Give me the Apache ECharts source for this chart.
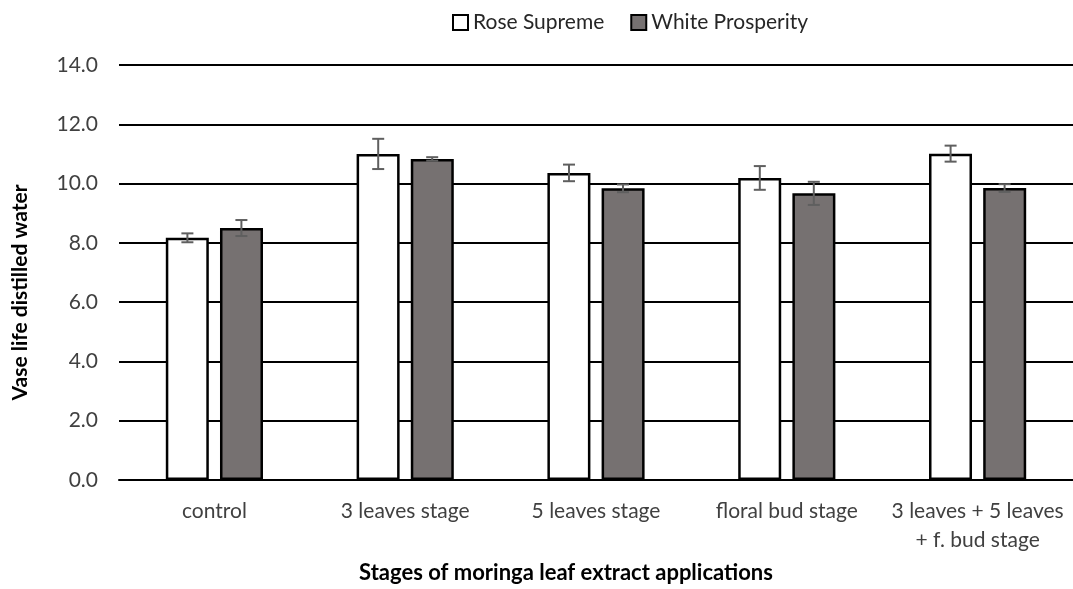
<!DOCTYPE html>
<html>
<head>
<meta charset="utf-8">
<script src="https://cdn.jsdelivr.net/npm/echarts@6/dist/echarts.min.js"></script>
<style>
  html, body { margin: 0; padding: 0; background: #fff; }
  #chart { width: 1073px; height: 589px; }
</style>
</head>
<body>
<div id="chart"></div>
<script>
// data
const categories = ['control', '3 leaves stage', '5 leaves stage', 'floral bud stage', '3 leaves + 5 leaves\n+ f. bud stage'];
const roseSupreme = [8.17, 11.0, 10.36, 10.19, 11.01];
const roseErr = [0.15, 0.51, 0.28, 0.40, 0.27];
const whiteProsperity = [8.5, 10.83, 9.84, 9.67, 9.85];
const whiteErr = [0.27, 0.06, 0.13, 0.39, 0.13];
const yTicks = [0, 2, 4, 6, 8, 10, 12, 14];

const font = 'Lato, "Open Sans", sans-serif';
const BAR_W = 43;
const OFFSET = 27; // half of bar centre-to-centre distance

function errData(vals, errs) {
  return vals.map((v, i) => [i, v - errs[i], v + errs[i]]);
}

function errSeries(name, vals, errs, shift) {
  return {
    type: 'custom',
    name: name + ' err',
    z: 10,
    renderItem: (params, api) => {
      const lo = api.coord([api.value(0), api.value(1)]);
      const hi = api.coord([api.value(0), api.value(2)]);
      const x = lo[0] + shift;
      const cap = 6;
      const style = { stroke: '#5f5f5f', lineWidth: 2 };
      return {
        type: 'group',
        children: [
          { type: 'line', shape: { x1: x, y1: hi[1], x2: x, y2: lo[1] }, style },
          { type: 'line', shape: { x1: x - cap, y1: hi[1], x2: x + cap, y2: hi[1] }, style },
          { type: 'line', shape: { x1: x - cap, y1: lo[1], x2: x + cap, y2: lo[1] }, style }
        ]
      };
    },
    encode: { x: 0, y: [1, 2] },
    data: errData(vals, errs),
    silent: true
  };
}

const chart = echarts.init(document.getElementById('chart'));
chart.setOption({
  animation: false,
  textStyle: { fontFamily: font },
  legend: {
    top: 7,
    left: 447,
    data: ['Rose Supreme', 'White Prosperity'],
    icon: 'rect',
    itemWidth: 15,
    itemHeight: 15,
    itemGap: 26,
    textStyle: { fontSize: 21, color: '#262626', fontFamily: font }
  },
  grid: { left: 119, right: 0, top: 65, bottom: 105 },
  xAxis: {
    type: 'category',
    data: categories,
    axisLine: { lineStyle: { color: '#000', width: 2 } },
    axisTick: { show: false },
    axisLabel: { fontSize: 21, color: '#404040', margin: 17, lineHeight: 29, interval: 0 },
    name: 'Stages of moringa leaf extract applications',
    nameLocation: 'middle',
    nameGap: 82,
    nameTextStyle: { fontSize: 22, fontWeight: 'bold', color: '#000', padding: [0, 60, 0, 0] }
  },
  yAxis: {
    type: 'value',
    min: yTicks[0],
    max: yTicks[yTicks.length - 1],
    interval: 2,
    axisLine: { show: false },
    axisTick: { show: false },
    splitLine: { lineStyle: { color: '#000', width: 2 } },
    axisLabel: { fontSize: 21, color: '#404040', margin: 21, formatter: v => v.toFixed(1) },
    name: 'Vase life distilled water',
    nameLocation: 'middle',
    nameGap: 88,
    nameTextStyle: { fontSize: 21, fontWeight: 'bold', color: '#000', padding: [0, 40, 0, 0] }
  },
  series: [
    {
      name: 'Rose Supreme',
      type: 'bar',
      data: roseSupreme,
      barWidth: BAR_W,
      barGap: '26%',
      itemStyle: { color: '#fff', borderColor: '#000', borderWidth: 2.5 }
    },
    {
      name: 'White Prosperity',
      type: 'bar',
      data: whiteProsperity,
      barWidth: BAR_W,
      itemStyle: { color: '#767171', borderColor: '#000', borderWidth: 2.5 }
    },
    errSeries('Rose Supreme', roseSupreme, roseErr, -OFFSET),
    errSeries('White Prosperity', whiteProsperity, whiteErr, OFFSET)
  ]
});
</script>
</body>
</html>
